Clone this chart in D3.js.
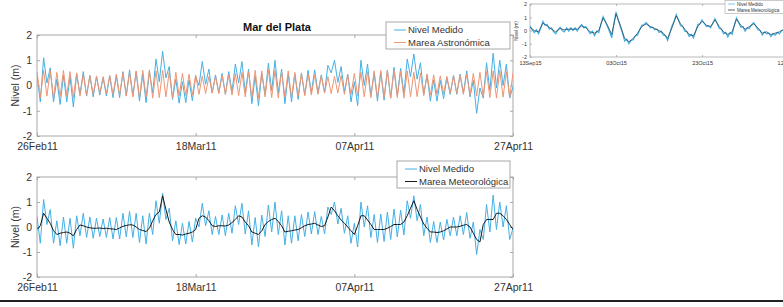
<!DOCTYPE html>
<html><head><meta charset="utf-8">
<script src="https://cdn.jsdelivr.net/npm/d3@7"></script>
<style>
body{margin:0;background:#fff}
svg{display:block}
text{font-family:"Liberation Sans",Arial,Helvetica,sans-serif}
</style>
</head><body>
<svg id="chart" width="783" height="307"></svg>
<script>
// ---------------- DATA ----------------
const title = "Mar del Plata";
const yLabel = "Nivel (m)";
const startDate = "26Feb11";
const endDate = "27Apr11";
const tickLabels = ["26Feb11", "18Mar11", "07Apr11", "27Apr11"];
const yTicks = [-2, -1, 0, 1, 2];
const stepHours = 10;
const legendTop = ["Nivel Medido", "Marea Astronómica"];
const legendBottom = ["Nivel Medido", "Marea Meteorológica"];

const nivelMedido = [
 0.42,-0.65,1.10,0.10,0.70,-0.65,0.25,-0.75,0.40,-0.65,
 0.35,-0.85,0.45,-0.35,0.55,-0.42,0.40,-0.45,0.35,-0.38,
 0.32,-0.42,0.38,-0.48,0.38,-0.48,0.55,-0.40,0.62,-0.42,
 0.55,-0.62,0.45,-0.68,0.55,-0.30,1.05,0.15,1.35,0.30,
 0.75,-0.55,0.25,-0.70,0.15,-0.68,0.22,-0.60,0.35,0.00,
 0.95,0.05,0.65,-0.30,0.42,-0.30,0.48,-0.35,0.55,-0.25,
 0.85,0.10,0.95,-0.28,0.65,-0.72,0.38,-0.80,0.48,-0.38,
 0.88,-0.20,1.00,-0.30,0.65,-0.72,0.45,-0.65,0.45,-0.55,
 0.50,-0.38,0.60,-0.28,0.62,-0.30,0.42,-0.28,0.80,0.50,
 1.00,0.12,0.75,-0.25,0.45,-0.65,0.15,-0.80,1.00,0.00,
 0.85,-0.42,0.50,-0.62,0.52,-0.58,0.60,-0.50,0.72,-0.40,
 0.68,-0.32,1.05,0.35,1.25,0.25,0.90,-0.35,0.40,-0.62,
 0.22,-0.62,0.20,-0.52,0.30,-0.35,0.40,-0.35,0.45,-0.30,
 0.58,-0.45,0.20,-1.10,-0.10,-0.50,0.90,-0.20,1.28,-0.10,
 1.00,0.00,0.85,-0.50,-0.05
];

const mareaAstronomica = [
 0.55,-0.48,0.60,-0.42,0.58,-0.50,0.52,-0.45,0.60,-0.40,0.55,-0.48,
 0.50,-0.42,0.45,-0.38,0.40,-0.35,0.38,-0.30,0.35,-0.32,0.40,-0.35,
 0.45,-0.38,0.50,-0.42,0.52,-0.45,0.58,-0.48,0.60,-0.45,0.62,-0.50,
 0.58,-0.48,0.60,-0.45,0.55,-0.50,0.52,-0.42,0.48,-0.40,0.45,-0.38,
 0.42,-0.35,0.38,-0.32,0.35,-0.30,0.36,-0.32,0.40,-0.35,0.42,-0.38,
 0.48,-0.40,0.52,-0.45,0.55,-0.48,0.60,-0.50,0.58,-0.45,0.62,-0.48,
 0.60,-0.50,0.55,-0.45,0.58,-0.48,0.52,-0.42,0.48,-0.40,0.45,-0.38,
 0.42,-0.35,0.38,-0.30,0.35,-0.32,0.36,-0.30,0.40,-0.35,0.42,-0.36,
 0.48,-0.40,0.52,-0.45,0.55,-0.48,0.58,-0.50,0.60,-0.46,0.62,-0.50,
 0.60,-0.48,0.56,-0.50,0.58,-0.45,0.52,-0.44,0.50,-0.40,0.46,-0.38,
 0.42,-0.35,0.38,-0.32,0.36,-0.30,0.38,-0.32,0.40,-0.35,0.45,-0.38,
 0.48,-0.42,0.52,-0.45,0.56,-0.48,0.58,-0.50,0.60,-0.46,0.55,-0.48,0.50
];

const mareaMeteorologica = [
 -0.10,0.05,0.55,0.35,0.15,-0.15,-0.30,-0.25,-0.22,-0.20,
 -0.25,-0.35,-0.10,0.08,0.05,0.00,-0.03,-0.05,-0.05,-0.04,
 -0.06,-0.05,-0.07,-0.08,-0.10,-0.04,0.03,0.06,0.09,0.08,
 0.00,-0.10,-0.14,-0.18,-0.05,0.25,0.50,0.60,1.25,0.70,
 0.20,-0.10,-0.30,-0.30,-0.32,-0.28,-0.25,-0.20,-0.10,0.35,
 0.45,0.40,0.25,0.05,0.02,0.05,0.05,0.04,0.08,0.18,
 0.30,0.45,0.40,0.20,0.05,-0.20,-0.25,-0.30,-0.15,0.10,
 0.22,0.30,0.35,0.22,0.05,-0.20,-0.17,-0.15,-0.12,-0.10,
 -0.03,0.05,0.10,0.12,0.15,0.08,0.02,0.05,0.40,0.80,
 0.65,0.45,0.28,0.15,0.00,-0.15,-0.30,0.05,0.45,0.45,
 0.28,0.10,-0.10,-0.10,-0.10,-0.10,-0.05,0.02,0.10,0.10,
 0.10,0.20,0.45,0.75,1.05,0.70,0.40,0.12,-0.05,-0.20,
 -0.20,-0.22,-0.20,-0.15,-0.08,0.00,0.00,0.00,0.03,0.07,
 0.10,0.00,-0.25,-0.50,-0.60,0.10,0.30,0.30,0.30,0.55,
 0.55,0.45,0.30,0.10,-0.10
];

// inset (second figure, Sep-Nov 2015)
const insetStart = "13Sep15";
const insetEnd = "15Nov15";
const insetTickLabels = ["13Sep15", "03Oct15", "23Oct15", "12Nov15"];
const insetLegend = ["Nivel Medido", "Marea Meteorológica"];
const insetMedidoStepHours = 12;
const insetMeteoStepHours = 24;
const insetMedido = [
 0.35,0.05,-0.15,0.05,-0.25,0.20,0.70,0.40,0.45,0.10,
 0.20,-0.10,-0.25,0.05,0.25,0.00,-0.10,0.20,-0.05,0.20,
 0.00,0.20,-0.05,0.25,0.45,0.20,0.30,0.00,-0.25,-0.05,
 -0.40,-0.05,-0.15,0.50,1.05,0.70,0.30,-0.10,-0.55,0.50,
 1.40,0.80,0.25,-0.20,-0.80,-0.65,-1.00,-0.75,-0.70,-0.40,
 -0.35,0.05,0.40,0.45,0.60,0.40,0.20,0.25,0.05,0.10,
 -0.15,-0.05,-0.35,-0.40,-0.75,-0.20,0.35,0.70,1.20,0.80,
 0.35,0.30,-0.05,-0.10,-0.45,-0.30,-0.55,-0.10,0.45,0.50,
 0.80,0.55,0.30,0.35,0.20,0.55,0.90,0.55,0.15,0.10,
 -0.25,-0.15,-0.50,-0.15,-0.30,0.40,0.95,0.60,0.25,0.30,
 -0.05,0.20,0.15,0.45,0.60,0.35,0.05,0.00,-0.35,-0.10,
 -0.25,-0.20,-0.45,-0.25,-0.35,-0.15,-0.25,0.00,0.00,0.15
];
const insetMeteo = [
 0.24,0.00,-0.10,0.55,0.35,0.10,-0.10,0.15,0.05,0.10,
 0.10,0.10,0.35,0.20,-0.10,-0.20,0.00,0.95,0.40,-0.30,
 1.25,0.40,-0.60,-0.85,-0.60,-0.20,0.30,0.50,0.30,0.15,
 0.00,-0.20,-0.60,0.20,1.10,0.50,0.10,-0.30,-0.40,0.30,
 0.70,0.40,0.30,0.80,0.30,-0.10,-0.30,-0.10,0.85,0.40,
 0.10,0.30,0.50,0.20,-0.20,-0.10,-0.30,-0.20,-0.10,0.10
];

// ---------------- DRAW ----------------
const svg = d3.select("#chart");
const parse = d3.utcParse("%d%b%y");
const fmt = d3.utcFormat("%d%b%y");
const BLUE = "#45B0E4", ORANGE = "#EE9673", BLACK = "#1a1a1a";
const AXC = "#a8a8a8", TXT = "#333";

const t0 = parse(startDate), t1 = parse(endDate);
const x = d3.scaleUtc().domain([t0, t1]).range([37, 513]);
const tickDates = tickLabels.map(parse);
const timeOf = (i, step, start) => d3.utcHour.offset(start, i * step);

function panel(yTop, yBot, series, legendNames, legendBox) {
  const y = d3.scaleLinear().domain([-2, 2]).range([yBot, yTop]);
  const g = svg.append("g");
  g.append("rect").attr("x", x.range()[0]).attr("y", yTop)
    .attr("width", x.range()[1] - x.range()[0]).attr("height", yBot - yTop)
    .attr("fill", "#fff").attr("stroke", AXC).attr("stroke-width", 1);

  const styleAxis = (sel, fs) => {
    sel.select(".domain").remove();
    sel.selectAll(".tick line").attr("stroke", AXC);
    sel.selectAll(".tick text").attr("fill", TXT).attr("font-size", fs)
      .attr("font-family", '"Liberation Sans",Arial,sans-serif');
  };
  g.append("g").attr("transform", `translate(0,${yBot})`)
    .call(d3.axisBottom(x).tickValues(tickDates).tickFormat(fmt).tickSizeInner(-3).tickSizeOuter(0).tickPadding(7))
    .call(s => styleAxis(s, 10.5));
  g.append("g").attr("transform", `translate(0,${yTop})`)
    .call(d3.axisTop(x).tickValues(tickDates).tickFormat("").tickSizeInner(-3).tickSizeOuter(0))
    .call(s => styleAxis(s, 10.5));
  g.append("g").attr("transform", `translate(${x.range()[0]},0)`)
    .call(d3.axisLeft(y).tickValues(yTicks).tickFormat(d => String(d)).tickSizeInner(-3).tickSizeOuter(0).tickPadding(5))
    .call(s => styleAxis(s, 10.5));
  g.append("g").attr("transform", `translate(${x.range()[1]},0)`)
    .call(d3.axisRight(y).tickValues(yTicks).tickFormat("").tickSizeInner(-3).tickSizeOuter(0))
    .call(s => styleAxis(s, 10.5));

  g.append("text").attr("transform", `translate(19,${(yTop + yBot) / 2}) rotate(-90)`)
    .attr("text-anchor", "middle").attr("font-size", 10.5).attr("fill", TXT).text(yLabel);

  const clipId = "clip" + yTop;
  svg.append("clipPath").attr("id", clipId).append("rect")
    .attr("x", x.range()[0]).attr("y", yTop).attr("width", x.range()[1] - x.range()[0]).attr("height", yBot - yTop);
  const line = d3.line().x((d, i) => x(timeOf(i, stepHours, t0))).y(d => y(d));
  series.forEach(s => {
    g.append("path").datum(s.values).attr("clip-path", `url(#${clipId})`)
      .attr("fill", "none").attr("stroke", s.color).attr("stroke-width", s.width)
      .attr("stroke-linejoin", "round").attr("d", line);
  });

  // legend
  const lg = svg.append("g");
  lg.append("rect").attr("x", legendBox.x).attr("y", legendBox.y).attr("width", legendBox.w).attr("height", legendBox.h)
    .attr("fill", "#fff").attr("stroke", AXC);
  legendNames.forEach((name, k) => {
    const cy = legendBox.y + 8 + k * 12.5;
    lg.append("line").attr("x1", legendBox.x + 8).attr("x2", legendBox.x + 20).attr("y1", cy).attr("y2", cy)
      .attr("stroke", series[k].color).attr("stroke-width", 1);
    lg.append("text").attr("x", legendBox.x + 22).attr("y", cy + 3.4).attr("font-size", 9.5)
      .attr("fill", TXT).text(name);
  });
}

// top panel
svg.append("text").attr("x", 277).attr("y", 31).attr("text-anchor", "middle")
  .attr("font-size", 11).attr("font-weight", "bold").attr("fill", "#111").text(title);
panel(35, 136,
  [{values: nivelMedido, color: BLUE, width: 1}, {values: mareaAstronomica, color: ORANGE, width: 1}],
  legendTop, {x: 386, y: 22, w: 124, h: 27});
// bottom panel
panel(177, 277,
  [{values: nivelMedido, color: BLUE, width: 1}, {values: mareaMeteorologica, color: BLACK, width: 1}],
  legendBottom, {x: 397, y: 161, w: 113, h: 27});

// ---------------- INSET ----------------
(function inset() {
  const i0 = parse(insetStart), i1 = parse(insetEnd);
  const xi = d3.scaleUtc().domain([i0, i1]).range([530, 801]);
  const yi = d3.scaleLinear().domain([-2, 2]).range([57, 4]);
  const g = svg.append("g");
  g.append("rect").attr("x", 530).attr("y", 4).attr("width", 271).attr("height", 53)
    .attr("fill", "#fff").attr("stroke", AXC).attr("stroke-width", 0.8);
  const st = (sel) => {
    sel.select(".domain").remove();
    sel.selectAll(".tick line").attr("stroke", AXC).attr("stroke-width", 0.8);
    sel.selectAll(".tick text").attr("fill", TXT).attr("font-size", 5.5)
      .attr("font-family", '"Liberation Sans",Arial,sans-serif');
  };
  const tv = insetTickLabels.map(parse);
  g.append("g").attr("transform", "translate(0,57)")
    .call(d3.axisBottom(xi).tickValues(tv).tickFormat(fmt).tickSizeInner(-2).tickSizeOuter(0).tickPadding(4)).call(st);
  g.append("g").attr("transform", "translate(0,4)")
    .call(d3.axisTop(xi).tickValues(tv).tickFormat("").tickSizeInner(-2).tickSizeOuter(0)).call(st);
  g.append("g").attr("transform", "translate(530,0)")
    .call(d3.axisLeft(yi).tickValues(yTicks).tickFormat(d => String(d)).tickSizeInner(-2).tickSizeOuter(0).tickPadding(3)).call(st);
  g.append("text").attr("transform", "translate(518,31) rotate(-90)").attr("text-anchor", "middle")
    .attr("font-size", 5).attr("fill", TXT).text(yLabel);
  svg.append("clipPath").attr("id", "clipInset").append("rect").attr("x", 530).attr("y", 4).attr("width", 271).attr("height", 53);
  const l1 = d3.line().x((d, i) => xi(timeOf(i, insetMedidoStepHours, i0))).y(d => yi(d));
  const l2 = d3.line().x((d, i) => xi(timeOf(i, insetMeteoStepHours, i0))).y(d => yi(d));
  g.append("path").datum(insetMedido).attr("clip-path", "url(#clipInset)").attr("fill", "none")
    .attr("stroke", BLUE).attr("stroke-width", 1.2).attr("d", l1);
  g.append("path").datum(insetMeteo).attr("clip-path", "url(#clipInset)").attr("fill", "none")
    .attr("stroke", "#2a4a60").attr("stroke-width", 0.8).attr("d", l2);
  // inset legend
  const lg = svg.append("g");
  lg.append("rect").attr("x", 725).attr("y", 0.5).attr("width", 70).attr("height", 13)
    .attr("fill", "#fff").attr("stroke", AXC).attr("stroke-width", 0.6);
  const cols = [BLUE, BLACK];
  insetLegend.forEach((name, k) => {
    const cy = 4 + k * 6;
    lg.append("line").attr("x1", 728).attr("x2", 735).attr("y1", cy).attr("y2", cy)
      .attr("stroke", cols[k]).attr("stroke-width", 0.7);
    lg.append("text").attr("x", 737).attr("y", cy + 1.6).attr("font-size", 4.5).attr("fill", TXT).text(name);
  });
})();

// bottom rule
svg.append("line").attr("x1", 0).attr("x2", 783).attr("y1", 301).attr("y2", 301)
  .attr("stroke", "#222").attr("stroke-width", 2);
</script>
</body></html>
